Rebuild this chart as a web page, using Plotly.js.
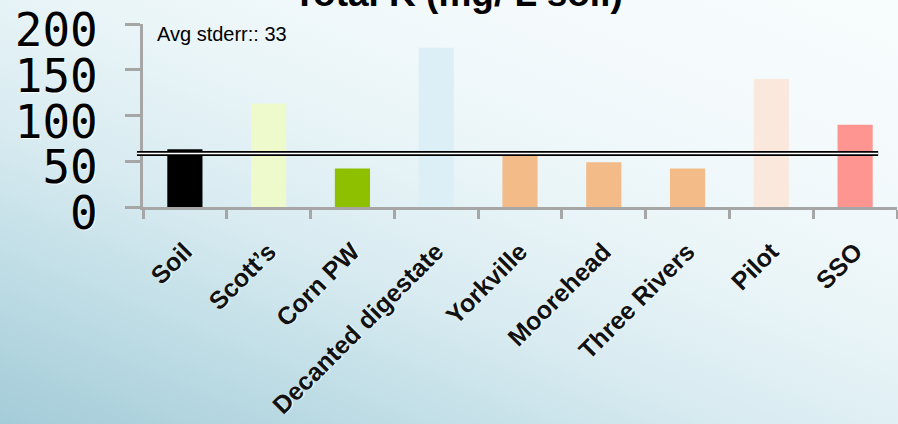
<!DOCTYPE html>
<html>
<head>
<meta charset="utf-8">
<script src="https://cdn.plot.ly/plotly-3.0.1.min.js"></script>
<style>
  html, body { margin: 0; padding: 0; width: 898px; height: 424px; overflow: hidden; }
  #chart {
    width: 898px; height: 424px;
    background:
      linear-gradient(22deg, #a4ccd8 0%, #bcdbe4 18%, #d8ebf1 38%, #eaf5f8 58%, #f4fafc 78%, #f7fcfd 100%);
  }
</style>
</head>
<body>
<div id="chart"></div>
<script>
// ---- data ----
const categories = ["Soil", "Scott\u2019s", "Corn PW", "Decanted digestate", "Yorkville", "Moorehead", "Three Rivers", "Pilot", "SSO"];
const values = [63, 113, 42, 174, 58, 49, 42, 140, 90];
const barColors = ["#000000", "#eefacb", "#8fc000", "#ddeff6", "#f2bb88", "#f2bb88", "#f2bb88", "#fbe8dc", "#ff9590"];
const yTickVals = [0, 50, 100, 150, 200];
const avgLine = [58.5];
const titleText = "Total K (mg/ L soil)";
const noteText = "Avg stderr:: 33";

const trace = {
  type: "bar",
  x: categories,
  y: values,
  marker: { color: barColors, line: { width: 0 } },
  hoverinfo: "x+y"
};

const lineShapes = [
  { type: "line", xref: "paper", yref: "y", x0: -0.008, x1: 0.975, y0: avgLine[0], y1: avgLine[0],
    line: { color: "#000000", width: 5 } },
  { type: "line", xref: "paper", yref: "y", x0: -0.008, x1: 0.975, y0: avgLine[0], y1: avgLine[0],
    line: { color: "#ffffff", width: 1.6 } }
];

const layout = {
  width: 898, height: 424,
  margin: { l: 143, r: 1, t: 24, b: 217, autoexpand: false },
  paper_bgcolor: "rgba(0,0,0,0)",
  plot_bgcolor: "rgba(0,0,0,0)",
  showlegend: false,
  bargap: 0.58,
  title: {
    text: titleText,
    font: { family: "Liberation Sans, Arial, sans-serif", size: 37, color: "#000000", weight: "bold" },
    xref: "container", yref: "container",
    x: 0.51, xanchor: "center",
    y: 1 - 6 / 424, yanchor: "bottom"
  },
  xaxis: {
    type: "category",
    automargin: false,
    showgrid: false,
    zeroline: false,
    showline: true, linecolor: "#a6a6a6", linewidth: 3,
    ticks: "outside", tickson: "boundaries", ticklen: 9, tickwidth: 3, tickcolor: "#a6a6a6",
    tickangle: -45,
    ticklabelstandoff: 17,
    tickfont: { family: "Liberation Sans, Arial, sans-serif", size: 25, color: "#111111", weight: "bold",
                shadow: "1px 1px 1px #ffffff" },
    range: [-0.5, 8.5],
    fixedrange: true
  },
  yaxis: {
    range: [0, 200],
    automargin: false,
    showgrid: false,
    zeroline: false,
    showline: true, linecolor: "#a6a6a6", linewidth: 3,
    ticks: "outside", ticklen: 15, tickwidth: 3, tickcolor: "#a6a6a6",
    tickvals: yTickVals,
    ticktext: yTickVals.map(String),
    ticklabelstandoff: 18,
    ticklabelshift: 6,
    ticklabeloverflow: "allow",
    tickfont: { family: "DejaVu Sans Mono, monospace", size: 46, color: "#000000",
                shadow: "1px 1px 1px #ffffff" },
    fixedrange: true
  },
  shapes: lineShapes,
  annotations: [
    { text: noteText, xref: "paper", yref: "paper", x: 0.0165, y: 1.0, xanchor: "left", yanchor: "top",
      yshift: 3,
      showarrow: false, font: { family: "Liberation Sans, Arial, sans-serif", size: 20, color: "#000000" } }
  ]
};

Plotly.newPlot("chart", [trace], layout, { displayModeBar: false, staticPlot: true });
</script>
</body>
</html>
